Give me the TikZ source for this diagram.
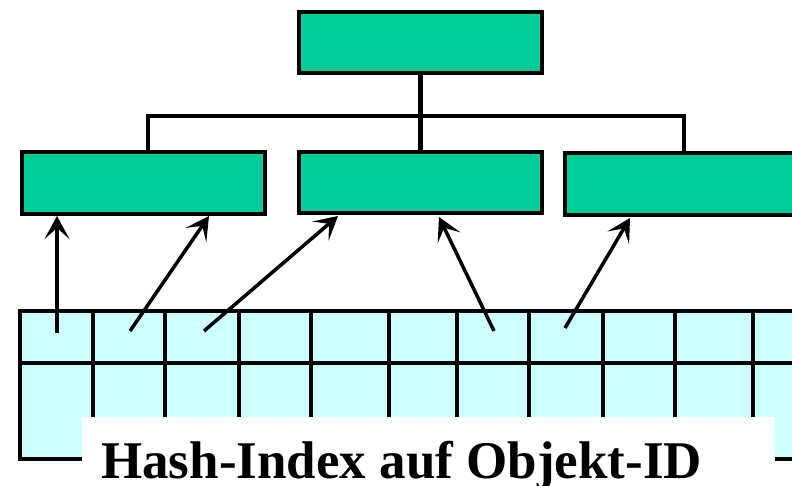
\documentclass[tikz,border=0pt]{standalone}
\usepackage{fontspec}
\setmainfont{Liberation Serif}
\usetikzlibrary{arrows.meta}
\definecolor{boxgreen}{HTML}{00CC99}
\definecolor{cellcyan}{HTML}{CCFFFF}
\tikzset{
  obox/.style={draw=black, fill=boxgreen, line width=4.5pt, rectangle, inner sep=0pt, outer sep=0pt},
  conn/.style={draw=black, line width=4.5pt},
  gridline/.style={draw=black, line width=4.5pt},
  ptr/.style={draw=black, line width=3.5pt, -{Stealth[length=23pt,width=25pt,inset=11pt]}},
  lbl/.style={font=\bfseries\fontsize{53pt}{60pt}\selectfont, inner sep=0pt, anchor=base west}
}
\begin{document}
\begin{tikzpicture}[x=1pt,y=-1pt]
\useasboundingbox (0,0) rectangle (792,486);
\clip (0,0) rectangle (792,486);
% boxes
\node[obox, minimum width=243pt, minimum height=61pt] (top) at (420.5,42.5) {};
\node[obox, minimum width=243pt, minimum height=62pt] (lbox) at (143.5,183) {};
\node[obox, minimum width=243pt, minimum height=61pt] (mbox) at (420.5,182.5) {};
\node[obox, minimum width=245pt, minimum height=62pt] (rbox) at (687.5,184) {};
% tree connectors
\coordinate (busL) at (148,116);
\coordinate (busR) at (684,116);
\draw[conn] (top.south) -- (mbox.north);
\draw[conn, line join=miter] (lbox.north -| busL) -- (busL) -- (busR) -- (rbox.north -| busR);
% hash table
\filldraw[fill=cellcyan, line width=4.5pt] (20,311) rectangle (840,459);
\foreach \x in {93,165,239,311,389,457,529,603,675,753} {
  \draw[gridline] (\x,311) -- (\x,459);
}
\draw[gridline] (20,363) -- (840,363);
% pointers
\coordinate (a1) at (57,333);
\coordinate (a2) at (130,331);
\coordinate (a3) at (204,331);
\coordinate (a4) at (494,331);
\coordinate (a5) at (565,328);
\coordinate (t1) at (57,216);
\coordinate (t2) at (209,216);
\coordinate (t3) at (338,216);
\coordinate (t4) at (439,217);
\coordinate (t5) at (630,218);
\draw[ptr] (a1) -- (t1);
\draw[ptr] (a2) -- (t2);
\draw[ptr] (a3) -- (t3);
\draw[ptr] (a4) -- (t4);
\draw[ptr] (a5) -- (t5);
% label
\fill[white] (82,417) rectangle (775,490);
\node[lbl] (label) at (101,478) {Hash-Index auf Objekt-ID};
\end{tikzpicture}
\end{document}
